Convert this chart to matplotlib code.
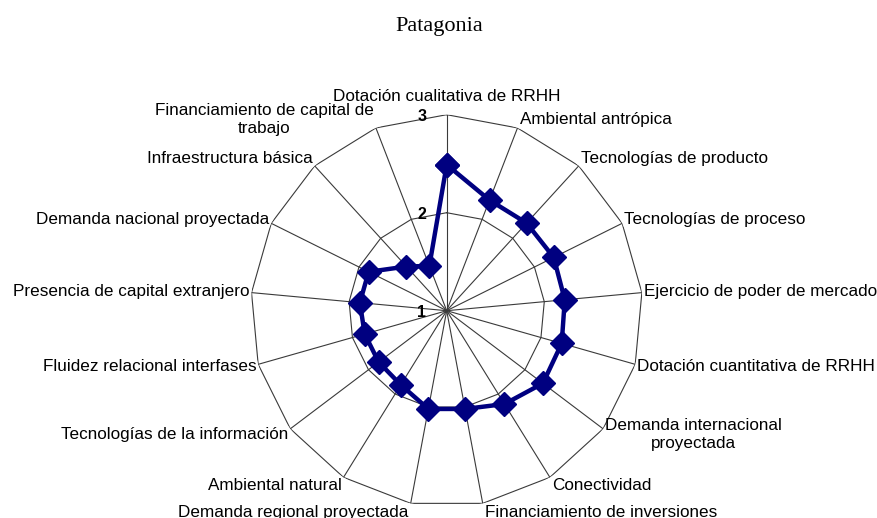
import numpy as np
import matplotlib
matplotlib.use("Agg")
import matplotlib.pyplot as plt

categories = [
    "Dotación cualitativa de RRHH",
    "Ambiental antrópica",
    "Tecnologías de producto",
    "Tecnologías de proceso",
    "Ejercicio de poder de mercado",
    "Dotación cuantitativa de RRHH",
    "Demanda internacional\nproyectada",
    "Conectividad",
    "Financiamiento de inversiones",
    "Demanda regional proyectada",
    "Ambiental natural",
    "Tecnologías de la información",
    "Fluidez relacional interfases",
    "Presencia de capital extranjero",
    "Demanda nacional proyectada",
    "Infraestructura básica",
    "Financiamiento de capital de\ntrabajo",
]
values = [2.49, 2.21, 2.21, 2.22, 2.21, 2.22, 2.23, 2.12, 2.02, 2.02,
          1.89, 1.87, 1.87, 1.89, 1.89, 1.61, 1.49]
ring_levels = [2, 3]
tick_levels = [1, 2, 3]
title = "Patagonia"

W, H = 878, 518
fig = plt.figure(figsize=(W / 100, H / 100), dpi=100)
cx, cy, R = 446.7, 310.7, 196.0
ax = fig.add_axes([(cx - R) / W, 1 - (cy + R) / H, 2 * R / W, 2 * R / H],
                  projection="polar")
ax.set_theta_zero_location("N")
ax.set_theta_direction(-1)
ax.set_ylim(1, 3)
ax.grid(False)
ax.set_xticks([])
ax.set_yticks([])
ax.spines["polar"].set_visible(False)
ax.patch.set_alpha(0)

n = len(categories)
theta = np.arange(n) * 2 * np.pi / n
grid_col = "#3a3a3a"
for t in theta:
    ax.plot([t, t], [1, 3], color=grid_col, lw=0.8, zorder=1)
tc = np.append(theta, theta[0])
for lv in ring_levels:
    ax.plot(tc, [lv] * (n + 1), color=grid_col, lw=0.8, zorder=1)

vc = np.append(values, values[0])
ax.plot(tc, vc, color="#000080", lw=3.2, marker="D", markersize=12.5,
        markeredgecolor="#000080", markerfacecolor="#000080", zorder=3,
        clip_on=False)

for lv in tick_levels:
    ax.annotate(str(lv), xy=(0, lv), xytext=(-25, -2), textcoords="offset pixels",
                ha="center", va="center", fontsize=11.5, fontweight="bold",
                family="Liberation Sans", annotation_clip=False)

for t, lab in zip(theta, categories):
    s, c = np.sin(t), np.cos(t)
    if abs(s) < 0.1:
        ha = "center"
        dx = 0
    elif s > 0:
        ha = "left"
        dx = 2
    else:
        ha = "right"
        dx = -2
    d = 9.5
    dy = d * c
    if abs(s) < 0.1 and c > 0:
        dy = 18
    ax.annotate(lab, xy=(t, 3), xytext=(dx, dy), textcoords="offset pixels",
                ha=ha, va="center", multialignment="center", fontsize=12.3,
                family="Liberation Sans", annotation_clip=False,
                linespacing=1.25)

fig.text(0.5, 1 - 26 / H, title, ha="center", va="center", fontsize=16,
         family="Liberation Serif")

fig.savefig("out.png", dpi=100)
